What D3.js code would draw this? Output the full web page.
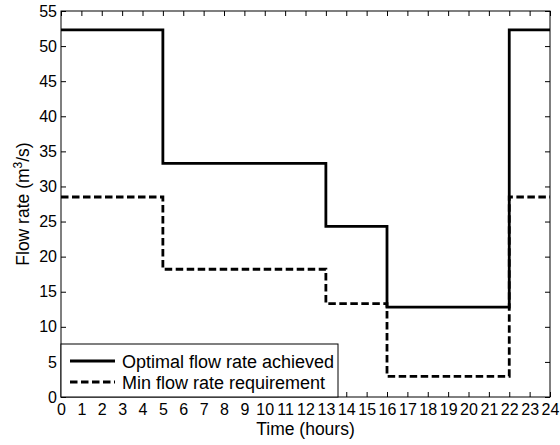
<!DOCTYPE html>
<html><head><meta charset="utf-8">
<script src="https://cdn.jsdelivr.net/npm/d3@7"></script>
<style>body{margin:0;background:#fff}svg text{font-family:"Liberation Sans",Arial,sans-serif;fill:#000}</style>
</head><body>
<svg id="c" width="560" height="445"></svg>
<script>
// Step breakpoints (hours) and values (m^3/s)
const hours = [0, 5, 13, 16, 22, 24];
const optimalFlow = [52.3, 33.3, 24.3, 12.8, 52.3];
const minFlow = [28.5, 18.2, 13.3, 2.95, 28.5];
const xTicks = d3.range(0, 25, 1);
const yTicks = d3.range(0, 56, 5);
const seriesNames = ["Optimal flow rate achieved", "Min flow rate requirement"];

const svg = d3.select("#c");
const m = {l: 61, r: 10, t: 11, b: 48};
const W = 560, H = 445;
const x = d3.scaleLinear().domain([0, 24]).range([m.l, W - m.r]);
const y = d3.scaleLinear().domain([0, 55]).range([H - m.b, m.t]);

function stepPts(vals) {
  const pts = [];
  vals.forEach((v, i) => { pts.push([hours[i], v]); pts.push([hours[i + 1], v]); });
  return pts;
}
const line = d3.line().x(d => x(d[0])).y(d => y(d[1]));

// axes with inward ticks
const tl = 5;
const gx = svg.append("g").attr("transform", `translate(0,${y(0)})`)
  .call(d3.axisBottom(x).tickValues(xTicks).tickSize(-tl).tickPadding(5).tickFormat(d3.format("d")));
const gxt = svg.append("g").attr("transform", `translate(0,${y(55)})`)
  .call(d3.axisTop(x).tickValues(xTicks).tickSize(-tl).tickFormat(""));
const gy = svg.append("g").attr("transform", `translate(${x(0)},0)`)
  .call(d3.axisLeft(y).tickValues(yTicks).tickSize(-tl).tickPadding(4));
const gyr = svg.append("g").attr("transform", `translate(${x(24)},0)`)
  .call(d3.axisRight(y).tickValues(yTicks).tickSize(-tl).tickFormat(""));
[gx, gxt, gy, gyr].forEach(g => {
  g.select(".domain").remove();
  g.selectAll("line").attr("stroke", "#000").attr("stroke-width", 1);
  g.selectAll("text").attr("font-size", 16).attr("fill", "#000");
});
gx.selectAll("text").attr("dy", "0.8em");
svg.append("rect").attr("x", x(0)).attr("y", y(55)).attr("width", x(24) - x(0)).attr("height", y(0) - y(55))
  .attr("fill", "none").attr("stroke", "#000").attr("stroke-width", 1);

// series
svg.append("path").attr("d", line(stepPts(minFlow))).attr("fill", "none")
  .attr("stroke", "#000").attr("stroke-width", 2.8).attr("stroke-dasharray", "7.5,3.5");
svg.append("path").attr("d", line(stepPts(optimalFlow))).attr("fill", "none")
  .attr("stroke", "#000").attr("stroke-width", 2.8);

// labels
svg.append("text").attr("x", (x(0) + x(24)) / 2).attr("y", 435).attr("text-anchor", "middle")
  .attr("font-size", 17.5).text("Time (hours)");
const yl = svg.append("text").attr("transform", `translate(29,${(y(0) + y(55)) / 2}) rotate(-90)`)
  .attr("text-anchor", "middle").attr("font-size", 17.5);
yl.append("tspan").text("Flow rate (m");
yl.append("tspan").attr("dy", -7).attr("font-size", 12).text("3");
yl.append("tspan").attr("dy", 7).text("/s)");

// legend
const lg = svg.append("g");
lg.append("rect").attr("x", x(0)).attr("y", 344).attr("width", 277).attr("height", y(0) - 344)
  .attr("fill", "#fff").attr("stroke", "#000").attr("stroke-width", 1);
seriesNames.forEach((n, i) => {
  const cy = 361 + i * 21;
  lg.append("line").attr("x1", 70).attr("x2", 115).attr("y1", cy).attr("y2", cy)
    .attr("stroke", "#000").attr("stroke-width", 2.8).attr("stroke-dasharray", i ? "7.5,3.5" : null);
  lg.append("text").attr("x", 122).attr("y", cy + 6.5).attr("font-size", 18).text(n);
});
</script>
</body></html>
